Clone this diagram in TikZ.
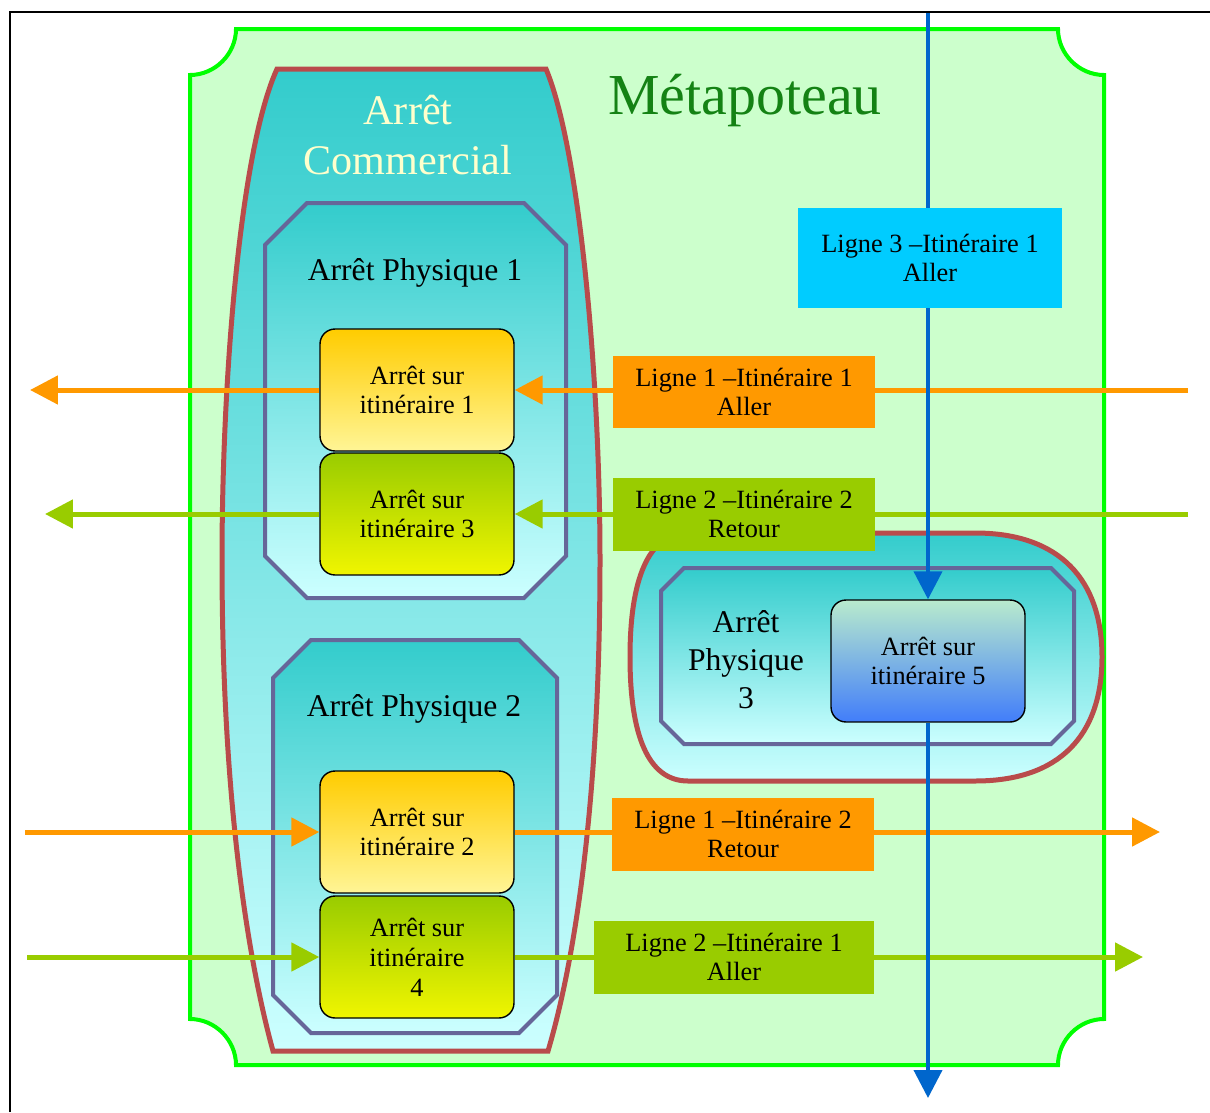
\documentclass[tikz,border=0pt]{standalone}
\usepackage{fontspec}
\setmainfont{Liberation Serif}
\usetikzlibrary{arrows.meta}

% Colours
\definecolor{metafill}{RGB}{204,255,204}
\definecolor{metaline}{RGB}{0,255,0}
\definecolor{metatext}{RGB}{20,130,20}
\definecolor{commline}{RGB}{185,75,75}
\definecolor{commtext}{RGB}{255,255,204}
\definecolor{physline}{RGB}{102,102,153}
\definecolor{tealtop}{RGB}{51,204,204}
\definecolor{tealbot}{RGB}{204,255,255}
\definecolor{orangetop}{RGB}{255,204,0}
\definecolor{orangebot}{RGB}{255,245,150}
\definecolor{greentop}{RGB}{153,204,0}
\definecolor{greenbot}{RGB}{240,245,0}
\definecolor{bluetop}{RGB}{185,235,205}
\definecolor{bluebot}{RGB}{65,125,250}
\definecolor{lineorange}{RGB}{255,153,0}
\definecolor{linegreen}{RGB}{153,204,0}
\definecolor{lineblue}{RGB}{0,102,204}
\definecolor{labelblue}{RGB}{0,204,255}

\pgfdeclarelayer{shapes}
\pgfdeclarelayer{lines}
\pgfsetlayers{shapes,lines,main}

\tikzset{
  stopbox/.style={draw=black, line width=0.8pt, rounded corners=0.3cm,
    minimum width=3.88cm, minimum height=2.44cm, inner sep=0pt,
    align=center, font=\fontsize{15}{17}\selectfont},
  stoporange/.style={stopbox, top color=orangetop, bottom color=orangebot},
  stopgreen/.style={stopbox, top color=greentop, bottom color=greenbot},
  stopblue/.style={stopbox, top color=bluetop, bottom color=bluebot},
  linebox/.style={minimum width=5.24cm, minimum height=1.46cm, inner sep=0pt,
    align=center, font=\fontsize{15}{17}\selectfont},
  physarea/.style={draw=physline, line width=0.08cm, top color=tealtop, bottom color=tealbot},
  commarea/.style={draw=commline, line width=0.1cm, top color=tealtop, bottom color=tealbot},
  physname/.style={align=center, font=\fontsize{18}{21.6}\selectfont},
  route/.style={line width=0.1cm, -{Triangle[length=0.56cm, width=0.56cm]}},
}

\begin{document}
\begin{tikzpicture}[x=0.02cm, y=-0.02cm]

  \useasboundingbox (0,0) rectangle (1210,1112);

  % Frame
  \draw[line width=0.06cm] (10,1112) -- (10,12) -- (1210,12);

  \begin{pgfonlayer}{shapes}
  % Metapoteau
  \draw[draw=metaline, fill=metafill, line width=0.08cm]
    (236,29) -- (1058,29) .. controls (1058,54) and (1079,75) .. (1104,75)
    -- (1104,1019) .. controls (1079,1019) and (1058,1040) .. (1058,1065)
    -- (236,1065) .. controls (236,1040) and (215,1019) .. (190,1019)
    -- (190,75) .. controls (215,75) and (236,54) .. (236,29) -- cycle;

  % Arret commercial
  \draw[commarea]
    (277,69) -- (546,69) .. controls (580,150) and (600,380) .. (600,560)
    .. controls (600,800) and (575,960) .. (548,1051)
    -- (273,1051) .. controls (248,960) and (222,800) .. (222,560)
    .. controls (222,380) and (240,150) .. (277,69) -- cycle;

  % Arret physique 1
  \draw[physarea] (307,203) -- (524,203) -- (566,245) -- (566,556)
    -- (524,598) -- (307,598) -- (265,556) -- (265,245) -- cycle;

  % Arret physique 2
  \draw[physarea] (311,640) -- (519,640) -- (557,678) -- (557,995)
    -- (519,1033) -- (311,1033) -- (273,995) -- (273,678) -- cycle;

  % Arret physique 3
  \draw[commarea]
    (688,533) -- (975,533) .. controls (1060,533) and (1102,580) .. (1102,657)
    .. controls (1102,735) and (1060,781) .. (975,781)
    -- (688,781) .. controls (648,781) and (630,735) .. (630,657)
    .. controls (630,580) and (648,533) .. (688,533) -- cycle;
  \draw[physarea] (684,568) -- (1051,568) -- (1074,591) -- (1074,721)
    -- (1051,744) -- (684,744) -- (661,721) -- (661,591) -- cycle;
  \end{pgfonlayer}

  % Titles
  \node[text=metatext, font=\fontsize{33}{40}\selectfont] (metatitle) at (745,101) {Métapoteau};
  \node[text=commtext, align=center, font=\fontsize{24}{28.5}\selectfont] (commtitle) at (408,135) {Arrêt\\Commercial};
  \node[physname] (phys1title) at (415,273) {Arrêt Physique 1};
  \node[physname] (phys2title) at (414,709) {Arrêt Physique 2};
  \node[physname] (phys3title) at (746,660) {Arrêt\\Physique\\3};

  % Stops
  \node[stoporange] (stop1) at (417,390) {Arrêt sur\\itinéraire 1};
  \node[stopgreen] (stop3) at (417,514) {Arrêt sur\\itinéraire 3};
  \node[stoporange] (stop2) at (417,832) {Arrêt sur\\itinéraire 2};
  \node[stopgreen] (stop4) at (417,957) {Arrêt sur\\itinéraire\\4};
  \node[stopblue] (stop5) at (928,661) {Arrêt sur\\itinéraire 5};

  % Lines
  \node[linebox, fill=labelblue, minimum width=5.3cm, minimum height=2.02cm] (l3i1) at (930,258) {Ligne 3 –Itinéraire 1\\Aller};
  \node[linebox, fill=lineorange] (l1i1) at (744,392) {Ligne 1 –Itinéraire 1\\Aller};
  \node[linebox, fill=linegreen] (l2i2) at (744,514) {Ligne 2 –Itinéraire 2\\Retour};
  \node[linebox, fill=lineorange, minimum width=5.26cm] (l1i2) at (743,834) {Ligne 1 –Itinéraire 2\\Retour};
  \node[linebox, fill=linegreen, minimum width=5.62cm] (l2i1) at (734,957) {Ligne 2 –Itinéraire 1\\Aller};

  % Free ends
  \coordinate (l1i1start) at (1188,390);
  \coordinate (l1i1end) at (30,390);
  \coordinate (l2i2start) at (1188,514);
  \coordinate (l2i2end) at (45,514);
  \coordinate (l1i2start) at (25,832);
  \coordinate (l1i2end) at (1160,832);
  \coordinate (l2i1start) at (27,957);
  \coordinate (l2i1end) at (1143,957);
  \coordinate (l3i1start) at (928,12);
  \coordinate (l3i1end) at (928,1098);

  \begin{pgfonlayer}{lines}
  \draw[route, lineorange] (l1i1start) -- (stop1.east);
  \draw[route, lineorange] (stop1.west) -- (l1i1end);
  \draw[route, linegreen] (l2i2start) -- (stop3.east);
  \draw[route, linegreen] (stop3.west) -- (l2i2end);
  \draw[route, lineorange] (l1i2start) -- (stop2.west);
  \draw[route, lineorange] (stop2.east) -- (l1i2end);
  \draw[route, linegreen] (l2i1start) -- (stop4.west);
  \draw[route, linegreen] (stop4.east) -- (l2i1end);
  \draw[route, lineblue, line width=0.08cm] (l3i1start) -- (stop5.north);
  \draw[route, lineblue, line width=0.08cm] (stop5.south) -- (l3i1end);
  \end{pgfonlayer}

\end{tikzpicture}
\end{document}
